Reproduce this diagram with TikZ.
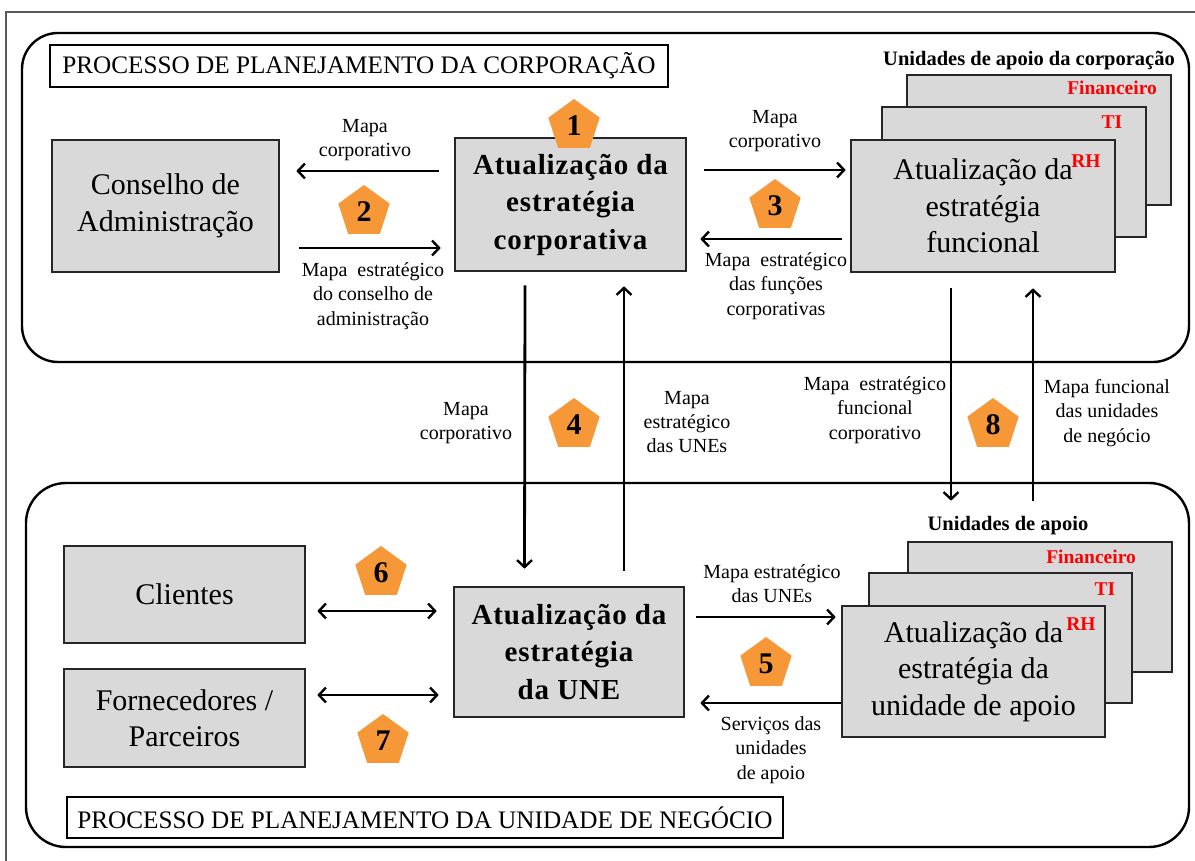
\documentclass[tikz,border=0pt]{standalone}
\usepackage{fontspec}
\IfFontExistsTF{LiberationSerif-Regular.ttf}{%
  \setmainfont{LiberationSerif-Regular.ttf}[BoldFont=LiberationSerif-Bold.ttf,ItalicFont=LiberationSerif-Italic.ttf]}{%
  \setmainfont{DejaVu Serif}}
\usetikzlibrary{arrows.meta,shapes.geometric,calc}
\definecolor{boxgray}{RGB}{217,217,217}
\definecolor{pentor}{RGB}{247,152,56}
\definecolor{redlbl}{RGB}{255,0,0}
\definecolor{framegray}{RGB}{90,90,90}
\begin{document}
\begin{tikzpicture}[x=1pt,y=-1pt,
  box/.style={draw=black!85, line width=2.6pt, fill=boxgray, inner sep=0pt, align=center,
    font=\fontsize{30}{36.5}\selectfont},
  bbox/.style={box, font=\bfseries\fontsize{29}{37.5}\selectfont\addfontfeatures{LetterSpace=3}},
  title/.style={draw=black, line width=1.4pt, fill=white, inner sep=0pt,
    font=\fontsize{25.2}{28}\selectfont},
  lbl/.style={align=center, inner sep=0pt, font=\fontsize{20}{24.2}\selectfont},
  pent/.style={regular polygon, regular polygon sides=5, minimum size=54pt, inner sep=0pt,
    fill=pentor, font=\bfseries\fontsize{30}{30}\selectfont},
  redl/.style={text=redlbl, inner sep=0pt, font=\bfseries\fontsize{19.5}{22}\selectfont},
  head/.style={inner sep=0pt, font=\bfseries\fontsize{20.5}{22}\selectfont},
  arr/.style={line width=2.8pt, -{Straight Barb[length=7pt,width=15pt,line width=2.4pt]}},
  darr/.style={line width=2.8pt, {Straight Barb[length=7pt,width=15pt,line width=2.4pt]}-{Straight Barb[length=7pt,width=15pt,line width=2.4pt]}},
  frame/.style={draw=black, line width=2.4pt}
]
\useasboundingbox (0,0) rectangle (1195,861);
% outer frame
\draw[framegray, line width=1.5pt] (6,861) -- (6,12) -- (1195,12);

% rounded frames
\draw[frame, rounded corners=36pt] (22,33) rectangle (1189,362);
\draw[frame, rounded corners=40pt] (26,483) rectangle (1189,847);

% titles
\node[title, minimum width=618pt, minimum height=42pt] (t1) at (359,66) {PROCESSO DE PLANEJAMENTO DA CORPORAÇÃO};
\node[title, minimum width=716pt, minimum height=41pt] (t2) at (425,817.5) {PROCESSO DE PLANEJAMENTO DA UNIDADE DE NEGÓCIO};

% top boxes
\node[box, minimum width=227pt, minimum height=132pt] (cons) at (165.5,206) {Conselho de\\Administração};
\node[bbox, minimum width=231pt, minimum height=133pt] (corp) at (570.5,204.5) {Atualização da\\estratégia\\corporativa};

\node[head] (hf) at (1029,61) {Unidades de apoio da corporação};
\node[box, minimum width=264pt, minimum height=130pt] (fback) at (1039,140) {};
\node[box, minimum width=264pt, minimum height=130pt] (fmid) at (1014,172) {};
\node[box, minimum width=264pt, minimum height=132pt] (func) at (983,206) {Atualização da\\estratégia\\funcional};
\node[redl, anchor=east] (ffin) at (1157,88) {Financeiro};
\node[redl] (fti) at (1112,122) {TI};
\node[redl] (frh) at (1086,161) {RH};

% bottom boxes
\node[box, minimum width=241pt, minimum height=97pt] (cli) at (184.5,594.5) {Clientes};
\node[box, minimum width=241pt, minimum height=98pt] (forn) at (184.5,718) {Fornecedores /\\Parceiros};
\node[bbox, minimum width=230pt, minimum height=130pt] (une) at (569,652) {Atualização da\\estratégia\\da UNE};

\node[head] (hs) at (1008,526) {Unidades de apoio};
\node[box, minimum width=264pt, minimum height=130pt] (sback) at (1040,607) {};
\node[box, minimum width=263pt, minimum height=130pt] (smid) at (1000.5,638) {};
\node[box, minimum width=263pt, minimum height=131pt] (sup) at (973.5,671.5) {Atualização da\\estratégia da\\unidade de apoio};
\node[redl, anchor=east] (sfin) at (1136,557) {Financeiro};
\node[redl] (sti) at (1105,589) {TI};
\node[redl] (srh) at (1081,624) {RH};

% arrows top
\draw[arr] ($(corp.west)+(-15,-33.5)$) -- ($(cons.east)+(16,-35)$);
\draw[arr] ($(cons.east)+(19,42)$) -- ($(corp.west)+(-13,43.5)$);
\draw[arr] ($(corp.east)+(17,-34.5)$) -- ($(func.west)+(-4,-36)$);
\draw[arr] ($(func.west)+(-8,33)$) -- ($(corp.east)+(13,34.5)$);
% vertical arrows
\draw[arr] ($(corp.south)+(-45.5,13)$) -- ($(une.north)+(-44.5,-17)$);
\draw[arr] ($(une.north)+(55,-15)$) -- ($(corp.south)+(53.5,14)$);
\draw[arr] ($(func.south)+(-32,15)$) -- ($(sback.north)+(-89,-40)$);
\draw[arr] ($(sback.north)+(-7,-40)$) -- ($(func.south)+(50,15)$);
% bottom arrows
\draw[darr] ($(cli.east)+(11,16.5)$) -- ($(une.west)+(-16,-41)$);
\draw[darr] ($(forn.east)+(11,-23)$) -- ($(une.west)+(-14,43)$);
\draw[arr] ($(une.east)+(11,-35)$) -- ($(sup.west)+(-5,-54.5)$);
\draw[arr] ($(sup.west)+(0,31.5)$) -- ($(une.east)+(15,51)$);

% labels
\node[lbl] (l1) at (365,140) {Mapa\\corporativo};
\node[lbl] (l2) at (373,296) {Mapa\ \ estratégico\\do conselho de\\administração};
\node[lbl] (l3) at (775,131) {Mapa\\corporativo};
\node[lbl] (l4) at (776,286) {Mapa\ \ estratégico\\das funções\\corporativas};
\node[lbl] (l5) at (466,423) {Mapa\\corporativo};
\node[lbl] (l6) at (687,422) {Mapa\\estratégico\\das UNEs};
\node[lbl] (l7) at (875,410) {Mapa\ \ estratégico\\funcional\\corporativo};
\node[lbl] (l8) at (1107,413) {Mapa funcional\\das unidades\\de negócio};
\node[lbl] (l9) at (772,584) {Mapa estratégico\\das UNEs};
\node[lbl] (l10) at (771,750) {Serviços das\\unidades\\de apoio};

% pentagons
\node[pent] (p1) at (574,126) {1};
\node[pent] (p2) at (364,212) {2};
\node[pent] (p3) at (775,206) {3};
\node[pent] (p4) at (574,425) {4};
\node[pent] (p5) at (766,664) {5};
\node[pent] (p6) at (381,573) {6};
\node[pent] (p7) at (383,741) {7};
\node[pent] (p8) at (993,425) {8};
\end{tikzpicture}
\end{document}
